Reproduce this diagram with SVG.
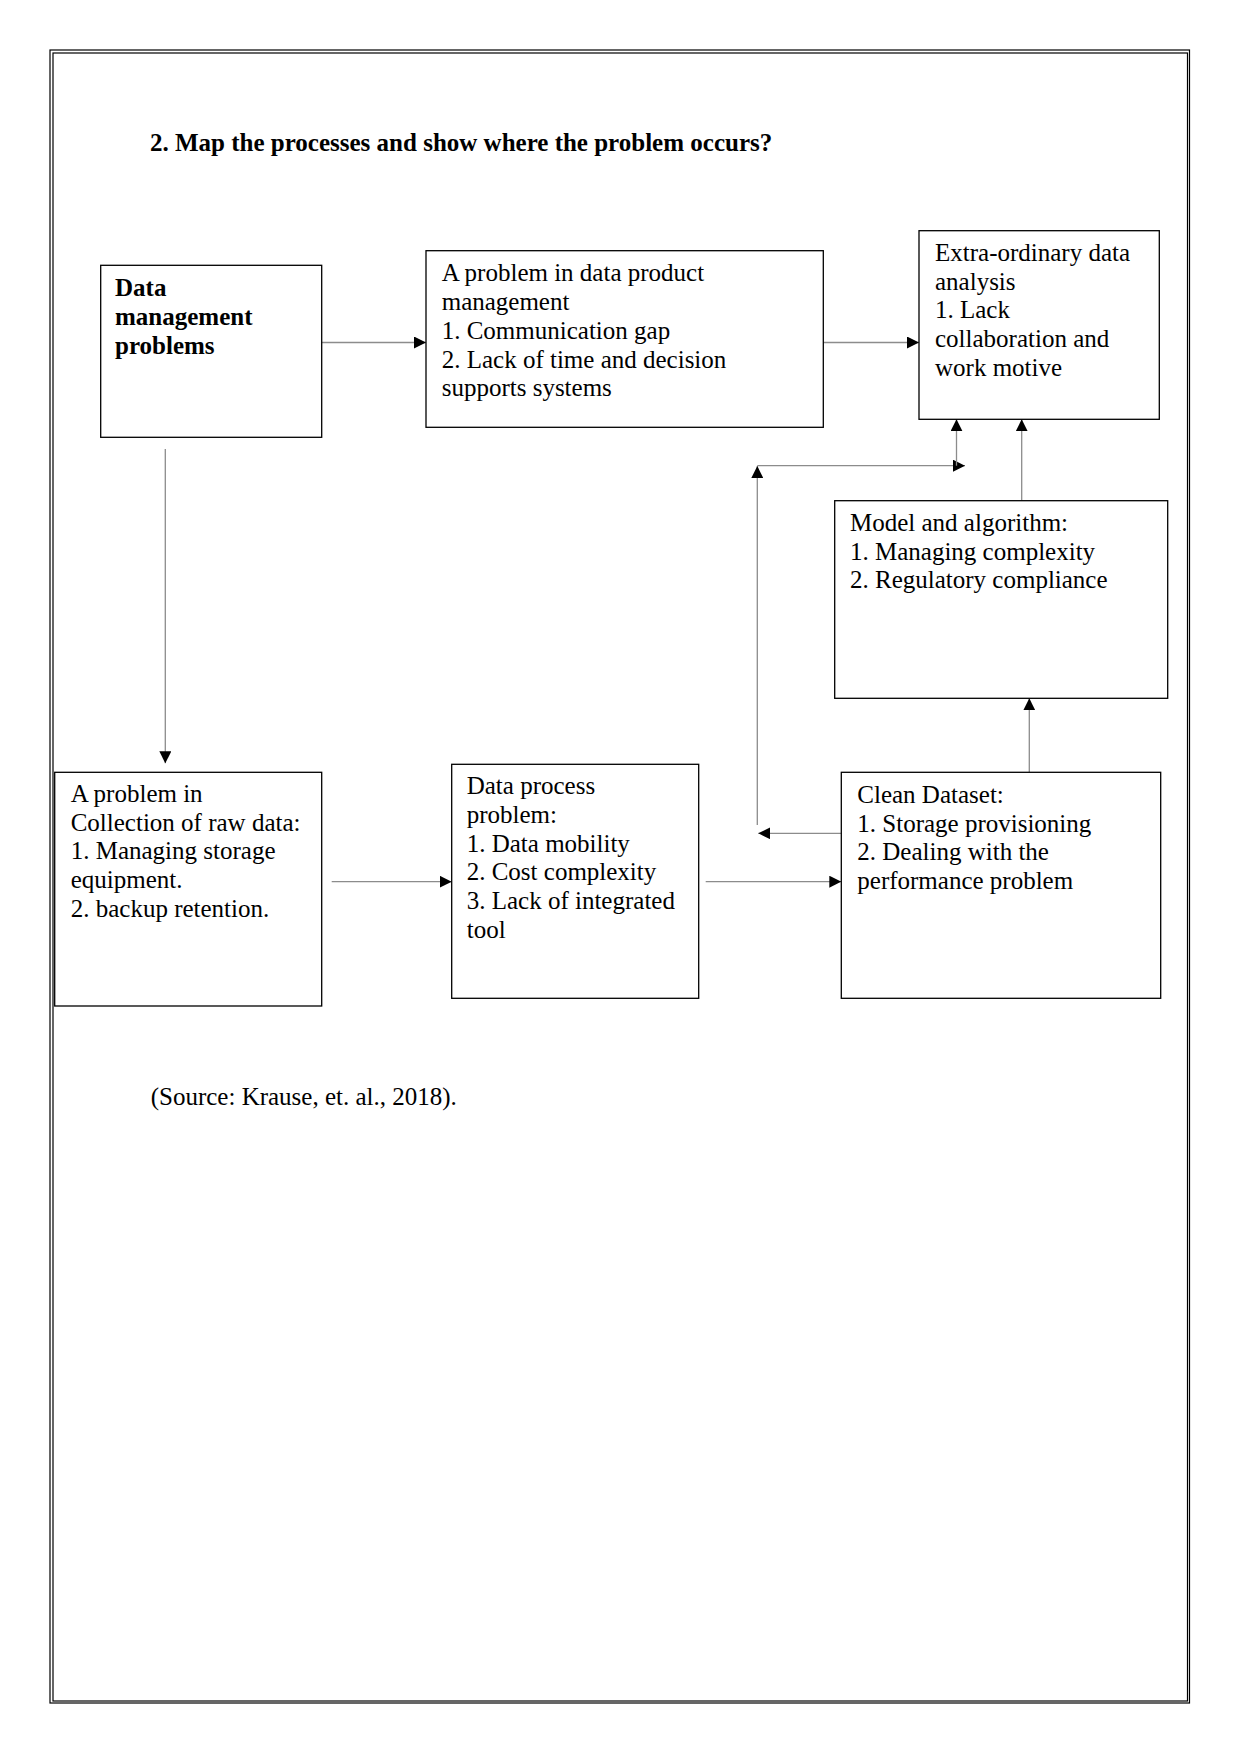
<svg xmlns="http://www.w3.org/2000/svg" width="1241" height="1754" viewBox="0 0 1241 1754">
<style>
  .page{fill:none;stroke:#000;stroke-width:1.2}
  .box{fill:#fff;stroke:#000;stroke-width:1.3}
  .t{font-family:"Liberation Serif","Times New Roman",serif;font-size:25px;fill:#000}
  .b{font-weight:bold}
  .c{fill:none;stroke:#8c8c8c;stroke-width:1.3}
</style>
<defs>
  <marker id="ah" viewBox="0 0 12 12" refX="12" refY="6" markerWidth="12" markerHeight="12" markerUnits="userSpaceOnUse" orient="auto">
    <path d="M0,0 L12,6 L0,12 Z" fill="#000"/>
  </marker>
</defs>
<rect width="1241" height="1754" fill="#fff"/>
<rect class="page" x="50" y="50" width="1139.5" height="1653"/>
<rect class="page" x="53" y="53" width="1134.5" height="1648"/>
<text class="t b" x="150" y="151">2. Map the processes and show where the problem occurs?</text>

<g id="connectors">
  <path class="c" d="M322,342.5 H426" marker-end="url(#ah)"/>
  <path class="c" d="M823,342.5 H919" marker-end="url(#ah)"/>
  <path class="c" d="M165.3,449 V763.3" marker-end="url(#ah)"/>
  <path class="c" d="M331.7,881.7 H451.7" marker-end="url(#ah)"/>
  <path class="c" d="M705.7,881.7 H841.3" marker-end="url(#ah)"/>
  <path class="c" d="M841.3,833.3 H758.3" marker-end="url(#ah)"/>
  <path class="c" d="M757.3,825 V466" marker-end="url(#ah)"/>
  <path class="c" d="M757.3,465.7 H965" marker-end="url(#ah)"/>
  <path class="c" d="M956.5,465.7 V419.3" marker-end="url(#ah)"/>
  <path class="c" d="M1021.7,500.7 V419.3" marker-end="url(#ah)"/>
  <path class="c" d="M1029.3,772.3 V698.3" marker-end="url(#ah)"/>
</g>

<g id="n1">
  <rect class="box" x="100.7" y="265.3" width="221" height="172"/>
  <text class="t b" x="115" y="296">Data</text>
  <text class="t b" x="115" y="325">management</text>
  <text class="t b" x="115" y="353.5">problems</text>
</g>
<g id="n2">
  <rect class="box" x="426" y="250.7" width="397.3" height="176.6"/>
  <text class="t" x="441.7" y="280.7">A problem in data product</text>
  <text class="t" x="441.7" y="309.5">management</text>
  <text class="t" x="441.7" y="338.5">1. Communication gap</text>
  <text class="t" x="441.7" y="367.5">2. Lack of time and decision</text>
  <text class="t" x="441.7" y="396">supports systems</text>
</g>
<g id="n3">
  <rect class="box" x="919" y="230.7" width="240.3" height="188.6"/>
  <text class="t" x="935" y="261">Extra-ordinary data</text>
  <text class="t" x="935" y="289.7">analysis</text>
  <text class="t" x="935" y="318.3">1. Lack</text>
  <text class="t" x="935" y="347.3">collaboration and</text>
  <text class="t" x="935" y="376">work motive</text>
</g>
<g id="n4">
  <rect class="box" x="834.7" y="500.7" width="333" height="197.6"/>
  <text class="t" x="850" y="530.7">Model and algorithm:</text>
  <text class="t" x="850" y="559.5">1. Managing complexity</text>
  <text class="t" x="850" y="588.3">2. Regulatory compliance</text>
</g>
<g id="n5">
  <rect class="box" x="54.7" y="772.3" width="267" height="233.7"/>
  <text class="t" x="70.7" y="802">A problem in</text>
  <text class="t" x="70.7" y="830.7">Collection of raw data:</text>
  <text class="t" x="70.7" y="859.3">1. Managing storage</text>
  <text class="t" x="70.7" y="887.7">equipment.</text>
  <text class="t" x="70.7" y="916.7">2. backup retention.</text>
</g>
<g id="n6">
  <rect class="box" x="451.7" y="764.3" width="247" height="234"/>
  <text class="t" x="466.7" y="794.3">Data process</text>
  <text class="t" x="466.7" y="822.7">problem:</text>
  <text class="t" x="466.7" y="851.7">1. Data mobility</text>
  <text class="t" x="466.7" y="880.3">2. Cost complexity</text>
  <text class="t" x="466.7" y="909.3">3. Lack of integrated</text>
  <text class="t" x="466.7" y="937.7">tool</text>
</g>
<g id="n7">
  <rect class="box" x="841.3" y="772.3" width="319.4" height="226"/>
  <text class="t" x="857.3" y="803.3">Clean Dataset:</text>
  <text class="t" x="857.3" y="831.5">1. Storage provisioning</text>
  <text class="t" x="857.3" y="860">2. Dealing with the</text>
  <text class="t" x="857.3" y="888.5">performance problem</text>
</g>

<text class="t" x="150.7" y="1105">(Source: Krause, et. al., 2018).</text>
</svg>
